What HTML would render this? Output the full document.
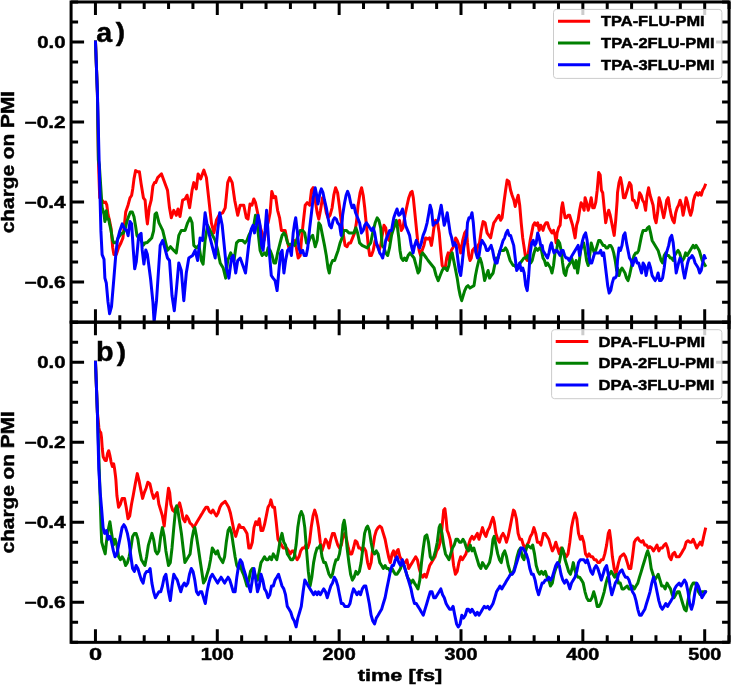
<!DOCTYPE html>
<html><head><meta charset="utf-8"><style>html,body{margin:0;padding:0;background:#fff;}svg{display:block;will-change:transform;}text{font-family:"Liberation Sans", sans-serif;stroke:#000;stroke-width:0.45px;}</style></head>
<body><svg width="731" height="685" viewBox="0 0 731 685" font-family='"Liberation Sans", sans-serif'><defs>
<clipPath id="ca"><rect x="71.08000000000001" y="1.9799999999999969" width="657.99" height="320.15999999999997"/></clipPath>
<clipPath id="cb"><rect x="71.08000000000001" y="322.18" width="657.99" height="320.1599999999999"/></clipPath>
</defs>
<g clip-path="url(#ca)" fill="none" stroke-width="3.0" stroke-linejoin="round" stroke-linecap="square">
<path d="M95.5,42.0 L97.4,92.6 L98.4,160.0 L99.7,197.8 L104.0,202.6 L105.6,202.1 L106.8,204.9 L108.0,214.4 L109.2,219.1 L111.1,228.6 L112.7,247.5 L113.9,254.6 L116.3,254.6 L118.6,247.5 L121.0,242.8 L122.9,238.0 L124.5,223.9 L125.7,212.0 L128.1,204.9 L130.0,197.8 L131.6,195.5 L132.8,188.4 L134.0,178.9 L135.6,170.6 L137.5,171.8 L139.4,171.8 L141.1,183.6 L143.4,197.8 L145.1,200.2 L146.5,216.8 L147.4,223.9 L149.3,207.3 L151.2,200.2 L152.9,186.0 L154.5,182.5 L155.7,182.6 L157.7,177.6 L161.5,173.9 L167.5,190.2 L169.5,207.8 L171.3,217.8 L173.8,210.3 L176.3,215.3 L178.0,209.0 L180.0,216.5 L182.6,200.2 L185.1,199.0 L187.1,195.2 L189.6,207.8 L192.1,190.2 L193.8,182.6 L196.3,188.9 L198.1,173.9 L200.6,178.9 L203.9,170.1 L206.4,177.6 L208.9,200.2 L211.4,222.8 L213.9,232.9 L216.4,220.3 L219.7,214.0 L222.7,212.8 L225.2,207.8 L227.7,182.6 L229.7,177.6 L232.2,182.6 L234.7,200.2 L237.7,215.3 L240.2,205.2 L243.8,205.2 L246.3,217.8 L248.0,219.1 L250.0,204.0 L252.0,205.2 L253.8,199.0 L255.5,202.7 L257.6,212.8 L259.6,225.3 L262.1,232.9 L264.1,240.4 L266.3,227.8 L268.1,222.8 L270.1,212.8 L271.8,191.4 L273.9,197.7 L275.6,196.5 L277.6,210.3 L279.6,217.8 L281.4,230.4 L283.1,230.4 L285.1,230.4 L287.1,240.4 L288.9,247.9 L291.4,247.9 L293.9,240.4 L296.4,247.9 L298.2,258.0 L300.2,255.5 L301.4,240.4 L303.2,222.8 L305.2,205.2 L307.2,202.7 L309.7,205.2 L311.5,190.2 L313.2,187.7 L315.2,200.2 L317.2,212.8 L318.8,219.1 L320.5,210.3 L322.5,197.7 L324.5,202.7 L326.3,212.8 L328.0,217.8 L330.0,215.3 L332.1,207.8 L333.8,195.2 L335.6,187.7 L337.6,192.7 L339.3,205.2 L341.1,220.3 L343.1,232.9 L345.1,245.4 L347.1,246.7 L348.9,242.9 L350.6,242.9 L352.6,237.9 L354.6,232.9 L356.4,222.8 L358.1,205.2 L360.1,192.7 L361.6,187.7 L363.2,195.2 L364.7,207.8 L366.4,225.3 L368.2,245.4 L369.7,255.5 L371.4,255.5 L373.2,250.4 L375.2,240.4 L377.2,245.4 L379.2,250.4 L380.7,245.4 L382.2,235.4 L384.0,225.3 L385.7,227.8 L387.2,237.9 L389.0,240.4 L390.2,232.9 L393.8,227.8 L395.5,222.8 L397.5,225.3 L399.5,220.3 L401.3,230.4 L403.0,227.8 L405.0,215.3 L407.1,205.2 L408.8,197.7 L410.6,192.7 L412.1,191.4 L413.3,197.7 L414.6,210.3 L416.1,225.3 L417.6,240.4 L419.1,250.4 L420.6,255.5 L422.1,250.4 L423.9,245.4 L425.6,237.9 L427.6,239.1 L429.6,237.9 L431.4,245.4 L432.6,237.9 L433.9,227.8 L435.6,220.3 L437.6,222.8 L439.2,232.9 L440.7,250.4 L442.2,265.5 L443.7,268.0 L445.2,268.0 L446.7,258.0 L448.2,252.9 L449.7,260.5 L451.2,250.4 L452.7,247.9 L454.2,245.4 L455.7,237.9 L457.2,240.4 L459.0,245.4 L460.7,252.9 L462.7,240.4 L464.7,232.9 L466.5,230.4 L467.5,242.9 L468.8,255.5 L470.0,260.5 L471.3,258.0 L472.5,250.4 L474.5,247.9 L476.3,252.9 L478.0,245.4 L479.5,242.9 L481.3,230.4 L483.1,221.6 L485.1,222.8 L487.1,232.9 L488.8,235.4 L490.6,237.9 L492.1,230.4 L493.8,222.8 L495.6,220.3 L497.1,217.8 L498.9,215.3 L500.6,220.3 L502.1,217.8 L503.9,202.7 L505.6,190.2 L507.1,180.1 L508.9,181.4 L510.6,190.2 L512.1,195.2 L513.9,200.2 L515.2,206.5 L516.7,200.2 L518.2,195.2 L519.7,205.2 L521.2,222.8 L522.7,237.9 L524.2,247.9 L525.7,258.0 L527.2,260.5 L528.7,250.4 L530.2,240.4 L531.7,232.9 L533.2,225.3 L534.7,222.8 L536.2,225.3 L537.7,222.8 L539.2,230.4 L540.7,225.3 L542.2,227.8 L543.0,230.4 L544.5,225.3 L546.0,222.8 L547.5,222.8 L549.0,227.8 L550.5,230.4 L552.0,232.9 L553.5,230.4 L555.0,235.4 L556.1,242.9 L557.1,232.9 L558.6,227.8 L560.1,225.3 L561.6,207.8 L562.6,202.7 L563.8,210.3 L565.1,217.8 L566.6,217.8 L568.1,215.3 L569.6,215.3 L571.1,220.3 L572.6,225.3 L574.1,232.9 L575.1,237.9 L576.6,225.3 L578.1,220.3 L579.6,210.3 L581.1,202.7 L582.6,205.2 L584.1,210.3 L585.1,197.7 L586.6,202.7 L588.2,210.3 L589.7,205.2 L591.2,197.7 L592.7,207.8 L594.2,207.8 L595.7,202.7 L597.2,190.2 L598.7,172.6 L600.2,175.1 L601.4,190.2 L602.7,192.7 L604.2,207.8 L605.7,222.8 L607.2,215.3 L608.7,210.3 L610.2,215.3 L611.7,222.8 L613.2,230.4 L614.2,235.4 L615.7,220.3 L617.2,200.2 L617.5,192.7 L619.0,182.6 L620.5,177.6 L622.0,185.2 L623.5,197.7 L625.0,197.7 L626.5,192.7 L628.0,187.7 L629.5,182.6 L631.1,185.2 L632.6,200.2 L634.1,200.2 L635.1,202.7 L636.6,207.8 L638.1,202.7 L639.6,192.7 L641.1,195.2 L642.6,200.2 L644.1,202.7 L645.6,210.3 L647.1,195.2 L648.6,187.7 L650.1,195.2 L651.6,200.2 L653.1,205.2 L654.6,217.8 L656.1,222.8 L657.6,212.8 L659.1,197.7 L660.6,202.7 L662.1,210.3 L663.7,217.8 L665.2,210.3 L666.7,200.2 L668.2,197.7 L669.7,207.8 L671.2,215.3 L672.7,220.3 L674.2,222.8 L675.7,212.8 L677.2,207.8 L678.6,205.2 L680.1,200.2 L681.6,205.2 L683.1,215.3 L684.6,207.8 L686.1,197.7 L687.6,202.7 L689.1,210.3 L690.6,215.3 L692.1,210.3 L693.6,200.2 L695.1,195.2 L696.7,192.7 L698.2,195.2 L699.7,192.7 L701.2,195.2 L702.7,190.2 L704.2,187.7 L705.2,185.2" stroke="#ff0000"/>
<path d="M95.5,42.0 L97.4,92.6 L98.4,160.0 L99.3,164.7 L102.1,207.3 L104.0,214.4 L104.9,221.5 L106.3,210.8 L107.3,219.1 L108.7,219.1 L109.6,223.9 L111.1,230.9 L112.7,240.4 L113.9,242.8 L116.3,242.8 L118.1,238.0 L119.8,235.7 L121.5,233.3 L123.3,233.3 L125.2,228.6 L126.9,221.5 L128.5,216.8 L130.4,212.0 L132.3,212.0 L134.0,216.8 L135.6,226.2 L137.0,235.7 L138.7,238.0 L141.1,240.4 L143.4,245.1 L145.1,242.8 L147.0,242.8 L149.3,240.4 L151.7,238.0 L153.6,230.9 L155.0,214.4 L156.5,212.8 L159.0,222.8 L162.7,230.4 L167.5,250.4 L170.5,246.7 L173.8,250.4 L176.3,252.9 L178.8,235.4 L181.3,230.4 L185.1,230.4 L187.6,222.8 L190.1,217.8 L192.1,222.8 L193.8,245.4 L196.3,247.9 L198.9,245.4 L201.4,260.5 L203.1,264.2 L205.1,240.4 L207.6,225.3 L210.1,230.4 L212.6,235.4 L215.2,240.4 L217.7,250.4 L220.2,263.0 L223.2,268.0 L225.7,278.1 L227.7,260.5 L230.7,252.9 L234.0,260.5 L236.5,242.9 L239.0,240.4 L242.5,240.4 L245.0,242.9 L247.0,240.4 L248.8,235.4 L251.3,230.4 L253.8,225.3 L255.5,215.3 L257.6,227.8 L260.1,250.4 L262.1,255.5 L264.6,252.9 L266.3,255.5 L268.1,247.9 L270.1,250.4 L272.1,255.5 L273.9,263.0 L275.6,263.0 L277.6,252.9 L280.1,242.9 L282.1,235.4 L283.9,232.9 L285.6,235.4 L287.6,242.9 L289.7,245.4 L292.7,242.9 L294.7,245.4 L296.4,240.4 L298.2,235.4 L300.2,230.4 L302.7,230.4 L304.7,232.9 L306.5,242.9 L308.2,242.9 L310.2,237.9 L312.7,235.4 L315.2,246.7 L317.2,240.4 L318.8,222.8 L320.5,225.3 L322.5,235.4 L324.5,245.4 L326.3,255.5 L328.0,268.0 L329.3,273.0 L330.5,265.5 L332.6,260.5 L334.6,260.5 L336.3,255.5 L338.1,250.4 L340.1,242.9 L342.1,237.9 L343.8,230.4 L346.3,230.4 L348.9,232.9 L351.4,232.9 L353.9,232.9 L355.9,227.8 L357.6,232.9 L359.6,242.9 L362.1,245.4 L364.7,246.7 L367.2,247.9 L368.9,245.4 L370.7,242.9 L372.7,232.9 L375.2,222.8 L377.2,217.8 L378.9,220.3 L380.7,227.8 L382.2,245.4 L384.0,247.9 L385.7,252.9 L387.7,255.5 L389.5,247.9 L391.5,235.4 L393.0,230.4 L395.0,222.8 L396.3,220.3 L397.5,227.8 L398.8,237.9 L400.0,250.4 L401.3,258.0 L403.0,260.5 L404.5,258.0 L406.3,260.5 L408.1,255.5 L410.1,252.9 L412.1,255.5 L414.1,258.0 L416.1,265.5 L418.1,273.0 L419.6,270.5 L421.1,255.5 L422.6,252.9 L424.6,255.5 L426.4,258.0 L428.1,260.5 L430.1,263.0 L432.1,265.5 L434.1,268.0 L436.1,275.5 L438.2,280.6 L440.2,275.5 L442.2,270.5 L443.7,268.0 L445.2,268.0 L447.2,270.5 L448.9,265.5 L450.7,255.5 L452.2,252.9 L454.2,263.0 L455.7,270.5 L457.2,278.1 L458.7,288.1 L460.2,295.6 L461.7,300.7 L463.2,295.6 L464.7,290.6 L466.5,286.8 L468.0,285.6 L470.0,288.1 L472.0,286.8 L474.0,285.6 L475.5,275.5 L477.0,268.0 L478.8,260.5 L480.0,258.0 L481.6,263.0 L483.1,270.5 L484.6,280.6 L486.3,275.5 L488.1,270.5 L489.6,278.1 L491.3,275.5 L493.1,273.0 L494.6,265.5 L496.3,258.0 L498.1,258.0 L500.1,250.4 L502.1,250.4 L503.9,250.4 L505.6,247.9 L507.1,250.4 L508.6,255.5 L510.1,260.5 L511.6,263.0 L513.2,265.5 L514.7,265.5 L516.4,268.0 L518.2,265.5 L520.2,263.0 L522.2,260.5 L523.9,258.0 L525.7,258.0 L527.7,255.5 L529.2,260.5 L530.7,263.0 L532.2,260.5 L534.0,252.9 L535.7,247.9 L537.7,250.4 L539.7,247.9 L541.5,250.4 L543.0,258.0 L544.5,260.5 L546.0,265.5 L547.5,263.0 L549.0,265.5 L550.5,268.0 L552.0,273.0 L553.5,265.5 L555.0,252.9 L556.6,250.4 L558.1,240.4 L559.6,242.9 L561.1,250.4 L562.6,263.0 L564.1,273.0 L565.6,275.5 L567.1,268.0 L568.6,265.5 L570.1,263.0 L571.6,258.0 L573.1,263.0 L574.6,268.0 L576.1,260.5 L577.6,273.0 L579.1,263.0 L580.6,250.4 L582.1,245.4 L583.6,242.9 L585.1,250.4 L586.6,260.5 L588.2,265.5 L589.7,255.5 L591.2,242.9 L592.7,247.9 L594.2,252.9 L595.7,250.4 L597.2,245.4 L598.7,240.4 L600.2,240.4 L601.7,242.9 L603.2,245.4 L604.7,245.4 L606.2,247.9 L607.7,247.9 L609.2,245.4 L610.7,245.4 L612.2,247.9 L613.7,252.9 L615.2,260.5 L616.7,270.5 L617.5,268.0 L619.0,275.5 L620.5,270.5 L622.0,268.0 L623.5,270.5 L625.0,273.0 L626.5,278.1 L628.0,280.6 L629.5,275.5 L631.1,268.0 L632.6,260.5 L634.1,255.5 L635.6,252.9 L637.1,252.9 L638.6,250.4 L640.1,242.9 L641.6,235.4 L643.1,230.4 L644.6,230.4 L646.1,230.4 L647.6,227.8 L649.1,226.6 L650.6,232.9 L652.1,240.4 L653.6,242.9 L655.1,245.4 L656.6,247.9 L658.1,250.4 L659.6,255.5 L661.1,260.5 L662.6,263.0 L664.2,255.5 L665.7,252.9 L667.2,255.5 L668.7,255.5 L670.2,258.0 L671.7,258.0 L673.2,260.5 L674.7,255.5 L676.2,252.9 L678.1,250.4 L679.6,252.9 L681.1,258.0 L682.6,260.5 L684.1,258.0 L685.6,252.9 L687.1,255.5 L688.6,252.9 L690.1,250.4 L691.6,247.9 L693.1,245.4 L694.6,247.9 L696.2,245.4 L697.7,247.9 L699.2,250.4 L700.7,255.5 L702.2,260.5 L703.7,263.0 L705.2,265.5" stroke="#008000"/>
<path d="M95.5,42.0 L97.4,92.6 L100.9,230.9 L102.1,254.6 L104.0,259.3 L104.9,278.2 L106.3,283.0 L108.0,301.9 L109.6,313.7 L111.5,306.6 L113.9,278.2 L115.8,254.6 L117.4,240.4 L119.8,230.9 L122.2,223.9 L124.5,228.6 L126.9,230.9 L128.1,235.7 L130.0,221.5 L131.6,223.9 L133.3,249.9 L134.7,268.8 L136.3,261.7 L138.7,235.7 L141.1,233.3 L142.2,249.9 L143.9,264.1 L145.8,249.9 L147.4,254.6 L150.5,278.2 L152.9,301.9 L154.1,322.0 L156.5,300.7 L160.2,245.4 L162.7,240.4 L167.5,258.0 L169.5,260.5 L172.0,295.6 L174.3,310.7 L176.3,290.6 L178.8,263.0 L181.3,270.5 L183.8,300.7 L186.3,273.0 L188.8,258.0 L192.6,255.5 L195.1,250.4 L197.6,260.5 L200.1,237.9 L202.6,240.4 L205.1,212.8 L207.6,227.8 L210.1,237.9 L212.6,247.9 L215.2,258.0 L217.7,230.4 L219.7,212.8 L222.2,225.3 L224.7,250.4 L226.4,268.0 L228.9,278.1 L231.5,258.0 L233.2,255.5 L235.7,273.0 L237.7,260.5 L240.2,258.0 L243.8,268.0 L245.5,273.0 L247.5,255.5 L249.5,237.9 L251.3,229.1 L253.0,225.3 L254.5,232.9 L256.3,225.3 L258.1,215.3 L260.1,225.3 L261.6,245.4 L263.1,250.4 L265.1,230.4 L266.6,210.3 L268.1,232.9 L269.6,255.5 L271.3,275.5 L273.1,278.1 L275.1,280.6 L277.1,290.6 L278.9,270.5 L280.6,252.9 L282.1,250.4 L283.9,273.0 L285.6,260.5 L287.6,250.4 L289.7,247.9 L291.4,255.5 L293.2,232.9 L294.7,222.8 L295.7,217.8 L297.2,230.4 L298.9,247.9 L300.7,252.9 L302.7,250.4 L304.2,255.5 L306.2,255.5 L307.7,247.9 L309.7,227.8 L311.5,212.8 L313.2,197.7 L315.2,187.7 L316.7,195.2 L318.0,204.0 L320.0,192.7 L321.3,188.9 L323.0,192.7 L324.5,200.2 L326.3,207.8 L328.0,217.8 L329.5,225.3 L331.3,227.8 L333.1,220.3 L334.6,217.8 L336.3,219.1 L337.6,222.8 L339.6,225.3 L341.1,235.4 L342.6,215.3 L344.6,202.7 L346.1,195.2 L347.6,191.4 L349.1,195.2 L350.6,202.7 L352.1,207.8 L353.9,205.2 L355.6,212.8 L357.6,217.8 L359.6,222.8 L361.4,232.9 L363.2,230.4 L364.7,225.3 L366.4,222.8 L368.2,225.3 L369.7,227.8 L371.4,230.4 L373.2,227.8 L374.7,232.9 L376.4,242.9 L378.2,247.9 L379.7,252.9 L381.5,255.5 L382.7,258.0 L384.2,250.4 L385.7,240.4 L387.7,235.4 L389.7,230.4 L391.5,230.4 L393.8,217.8 L395.5,212.8 L397.0,209.0 L398.8,215.3 L400.5,214.0 L402.5,209.0 L404.0,215.3 L405.5,225.3 L407.6,230.4 L409.6,235.4 L411.3,245.4 L413.1,252.9 L414.6,245.4 L416.3,240.4 L418.1,245.4 L419.6,247.9 L421.3,242.9 L423.1,235.4 L425.1,230.4 L427.1,222.8 L428.9,212.8 L430.1,205.2 L431.6,210.3 L433.1,225.3 L434.6,222.8 L436.4,222.8 L438.2,220.3 L439.7,212.8 L441.2,205.2 L442.7,215.3 L444.2,225.3 L445.7,220.3 L447.2,212.8 L448.7,222.8 L450.2,232.9 L451.7,237.9 L453.2,245.4 L454.7,242.9 L456.2,245.4 L457.7,258.0 L459.2,270.5 L460.7,275.5 L462.2,263.0 L463.7,247.9 L465.2,240.4 L466.7,235.4 L467.5,222.8 L469.0,217.8 L470.5,217.8 L472.0,212.8 L473.3,222.8 L474.5,237.9 L476.0,252.9 L477.5,258.0 L479.0,255.5 L480.5,245.4 L482.1,240.4 L483.6,242.9 L485.1,245.4 L486.6,250.4 L488.1,250.4 L489.6,247.9 L491.1,245.4 L492.6,250.4 L494.1,258.0 L495.6,263.0 L497.1,263.0 L498.6,255.5 L500.1,250.4 L501.6,245.4 L503.1,240.4 L504.6,237.9 L506.1,232.9 L507.6,230.4 L509.1,235.4 L510.6,235.4 L512.1,240.4 L513.7,245.4 L515.2,258.0 L516.7,270.5 L518.2,268.0 L519.7,263.0 L521.2,270.5 L522.7,268.0 L524.2,273.0 L525.7,285.6 L527.2,290.6 L528.7,275.5 L530.2,252.9 L531.7,242.9 L533.2,240.4 L534.7,245.4 L536.2,242.9 L537.7,232.9 L539.2,237.9 L540.7,245.4 L542.2,245.4 L543.0,250.4 L544.5,252.9 L546.0,255.5 L547.5,258.0 L549.0,252.9 L550.5,245.4 L551.5,242.9 L552.5,247.9 L554.0,252.9 L555.5,250.4 L557.1,250.4 L558.6,252.9 L560.1,255.5 L561.6,250.4 L563.1,250.4 L564.6,255.5 L566.1,258.0 L567.6,258.0 L569.1,260.5 L570.6,258.0 L572.1,255.5 L573.6,252.9 L575.1,250.4 L576.6,247.9 L578.1,245.4 L579.6,255.5 L581.1,247.9 L582.6,240.4 L584.1,235.4 L585.6,232.9 L587.1,240.4 L588.7,255.5 L590.2,263.0 L591.7,263.0 L593.2,258.0 L594.7,252.9 L596.2,252.9 L597.7,252.9 L599.2,252.9 L600.7,250.4 L602.2,255.5 L603.7,252.9 L604.7,260.5 L606.2,273.0 L607.7,285.6 L609.2,293.1 L610.7,290.6 L612.2,283.1 L613.7,278.1 L615.2,278.1 L616.7,275.5 L617.5,260.5 L619.0,247.9 L620.5,250.4 L622.0,245.4 L623.5,235.4 L625.0,232.9 L626.5,242.9 L628.0,250.4 L629.5,258.0 L631.1,260.5 L632.6,265.5 L634.1,260.5 L635.6,258.0 L637.1,263.0 L638.6,263.0 L640.1,268.0 L641.6,273.0 L643.1,263.0 L644.6,265.5 L646.1,275.5 L647.6,268.0 L649.1,263.0 L650.6,268.0 L652.1,275.5 L653.6,278.1 L655.1,280.6 L656.6,278.1 L658.1,273.0 L659.6,280.6 L661.1,280.6 L662.6,278.1 L664.2,268.0 L665.7,255.5 L667.2,250.4 L668.7,245.4 L670.2,237.9 L671.7,235.4 L673.2,242.9 L674.7,258.0 L676.2,273.0 L678.6,263.0 L680.1,258.0 L681.6,260.5 L683.1,270.5 L684.6,278.1 L686.1,270.5 L687.6,263.0 L689.1,258.0 L690.6,258.0 L692.1,255.5 L693.6,258.0 L695.1,263.0 L696.7,265.5 L698.2,268.0 L699.7,273.0 L701.2,270.5 L702.7,263.0 L704.2,255.5 L705.2,258.0" stroke="#0000ff"/>
</g>
<g clip-path="url(#cb)" fill="none" stroke-width="3.0" stroke-linejoin="round" stroke-linecap="square">
<path d="M95.5,362.2 L97.4,412.5 L98.9,428.0 L99.6,431.0 L100.8,432.7 L101.5,437.5 L102.3,449.0 L103.2,456.8 L105.0,460.4 L106.3,460.4 L107.6,453.3 L108.7,450.7 L109.8,455.0 L111.1,462.1 L112.4,466.5 L113.7,463.9 L114.6,469.1 L115.5,476.1 L115.9,480.0 L116.9,495.5 L118.6,507.2 L120.4,504.2 L122.1,498.4 L124.5,498.4 L126.2,507.2 L128.0,518.8 L129.7,515.9 L131.5,504.2 L133.2,495.5 L135.3,483.8 L137.3,473.6 L139.1,480.9 L140.8,489.6 L142.6,498.4 L144.3,492.6 L146.1,488.2 L147.8,482.3 L149.9,483.8 L151.9,492.6 L153.6,498.4 L155.4,495.5 L157.2,492.6 L158.9,504.2 L160.7,510.1 L162.4,515.9 L164.2,526.1 L165.9,510.1 L168.5,488.2 L169.7,492.6 L170.8,504.2 L172.6,510.1 L174.3,511.5 L176.1,507.2 L177.8,507.2 L179.6,502.8 L181.4,510.1 L183.1,518.8 L184.9,521.8 L186.6,515.9 L188.4,518.8 L190.1,523.2 L191.9,524.7 L193.6,527.6 L195.4,524.7 L197.1,521.8 L198.9,518.8 L200.6,515.9 L202.4,513.0 L204.1,510.1 L205.9,507.2 L207.6,507.2 L209.4,511.5 L211.1,513.0 L212.9,510.1 L214.6,513.0 L216.4,515.9 L218.1,513.0 L219.9,507.2 L221.6,504.2 L223.4,502.8 L225.1,501.3 L226.9,504.2 L228.6,507.2 L230.4,513.0 L232.2,521.8 L233.9,530.5 L235.7,536.4 L237.4,530.5 L239.2,524.7 L240.9,527.6 L243.5,527.6 L245.3,530.5 L247.0,533.4 L248.8,548.0 L250.5,548.0 L252.3,542.2 L254.0,527.6 L255.8,521.8 L257.5,524.7 L259.3,518.8 L261.0,530.5 L262.8,530.5 L264.5,524.7 L266.3,515.9 L268.0,507.2 L269.8,504.2 L270.9,499.9 L272.7,507.2 L274.5,507.2 L276.2,521.8 L278.0,539.3 L279.7,542.2 L281.5,545.1 L283.2,548.0 L285.0,548.0 L286.7,548.0 L288.5,550.9 L290.2,553.9 L292.0,550.9 L293.7,550.9 L295.5,556.8 L297.2,559.7 L299.0,556.8 L300.7,550.9 L302.5,548.0 L304.2,548.0 L306.0,545.1 L307.7,548.0 L309.5,542.2 L311.2,527.6 L313.0,515.9 L314.7,510.1 L316.5,515.9 L318.5,527.6 L320.3,542.2 L322.0,550.9 L323.8,545.1 L325.5,539.3 L327.3,542.2 L329.0,548.0 L330.8,539.3 L332.5,533.4 L334.3,533.4 L336.0,539.3 L337.8,545.1 L339.5,548.0 L341.3,545.1 L343.0,536.4 L344.8,533.4 L346.5,539.3 L348.3,548.0 L350.0,553.9 L351.8,553.9 L353.5,548.0 L355.3,540.7 L357.0,542.2 L358.8,548.0 L360.5,548.0 L362.3,550.9 L364.1,548.0 L365.8,550.9 L367.6,562.6 L369.3,568.5 L371.1,562.6 L372.8,548.0 L374.6,536.4 L376.3,530.5 L378.1,527.6 L379.8,526.1 L381.6,527.6 L383.3,533.4 L385.1,539.3 L386.8,548.0 L388.6,556.8 L390.3,562.6 L392.1,553.9 L393.5,550.9 L395.3,556.8 L397.0,550.9 L398.2,549.5 L399.9,556.8 L401.7,559.7 L403.4,562.6 L405.2,562.6 L406.9,559.7 L408.7,568.5 L410.4,565.5 L412.2,562.6 L413.9,559.7 L415.7,556.8 L417.4,559.7 L419.2,568.5 L420.9,574.3 L422.7,577.2 L424.5,574.3 L426.2,577.2 L428.0,571.4 L429.7,565.5 L431.5,562.6 L433.2,559.7 L435.0,556.8 L436.7,550.9 L438.5,548.0 L440.2,542.2 L442.0,527.6 L443.7,510.1 L444.9,508.6 L446.1,518.8 L447.2,530.5 L448.4,533.4 L450.1,539.3 L451.9,550.9 L453.6,565.5 L455.4,574.3 L457.2,571.4 L458.9,562.6 L460.7,556.8 L462.4,559.7 L464.2,556.8 L465.9,553.9 L468.5,545.1 L470.3,539.3 L472.0,536.4 L473.8,539.3 L475.5,536.4 L477.3,533.4 L479.0,539.3 L480.8,533.4 L482.5,527.6 L484.3,533.4 L486.0,536.4 L487.8,530.5 L489.5,527.6 L491.3,521.8 L493.0,517.4 L494.2,521.8 L495.9,533.4 L497.7,539.3 L499.5,542.2 L501.2,536.4 L503.0,533.4 L504.7,536.4 L506.5,542.2 L508.2,536.4 L510.0,527.6 L511.7,518.8 L513.5,510.1 L514.6,511.5 L516.4,518.8 L518.1,533.4 L519.9,539.3 L521.6,539.3 L523.4,545.1 L525.1,548.0 L526.9,545.1 L528.6,542.2 L530.4,536.4 L532.2,533.4 L533.9,527.6 L535.7,533.4 L537.4,542.2 L539.2,542.2 L540.9,545.1 L543.5,533.4 L545.3,533.4 L547.0,536.4 L548.8,539.3 L550.5,545.1 L552.3,550.9 L554.0,548.0 L555.8,542.2 L557.5,548.0 L559.3,553.9 L561.0,548.0 L562.8,550.9 L564.5,553.9 L566.3,556.8 L568.0,553.9 L569.8,542.2 L571.5,527.6 L573.3,518.8 L575.0,513.0 L576.8,518.8 L578.5,533.4 L580.3,539.3 L582.0,536.4 L583.8,542.2 L585.5,553.9 L587.3,556.8 L589.1,553.9 L590.8,556.8 L592.6,556.8 L594.3,559.7 L596.1,559.7 L597.8,562.6 L599.6,562.6 L601.3,559.7 L603.1,559.7 L604.8,553.9 L606.6,545.1 L608.3,533.4 L609.5,530.5 L610.7,539.3 L612.4,556.8 L614.2,568.5 L615.9,574.3 L618.5,562.6 L620.3,556.8 L622.0,555.3 L623.8,553.9 L625.5,556.8 L627.3,562.6 L629.0,568.5 L630.8,568.5 L632.5,556.8 L634.3,542.2 L636.0,539.3 L637.8,537.8 L639.5,540.7 L641.3,542.2 L643.0,540.7 L644.8,545.1 L646.5,545.1 L648.3,548.0 L650.0,546.6 L651.8,548.0 L653.5,550.9 L655.3,548.0 L657.0,545.1 L658.8,550.9 L660.5,548.0 L662.3,548.0 L664.1,545.1 L665.8,543.6 L667.6,548.0 L669.3,556.8 L671.1,559.7 L672.8,553.9 L674.6,552.4 L676.3,556.8 L679.2,556.8 L681.0,553.9 L682.7,550.9 L684.5,548.0 L686.2,542.2 L688.0,540.7 L689.7,542.2 L691.5,542.2 L693.2,539.3 L695.0,543.6 L696.7,548.0 L698.4,545.1 L700.2,542.2 L701.9,545.1 L703.7,536.4 L705.4,529.1" stroke="#ff0000"/>
<path d="M95.5,362.2 L97.4,412.6 L99.6,480.0 L101.1,527.6 L101.7,542.2 L103.4,548.0 L105.2,553.9 L106.4,542.2 L108.1,530.5 L109.9,521.8 L111.6,533.4 L113.4,545.1 L115.1,539.3 L116.9,545.1 L118.6,556.8 L120.4,559.7 L122.1,556.8 L123.9,559.7 L125.6,565.5 L127.4,562.6 L129.1,556.8 L130.9,548.0 L132.6,536.4 L134.4,533.4 L136.1,533.4 L137.9,539.3 L139.6,550.9 L141.4,559.7 L143.1,562.6 L144.9,565.5 L146.6,556.8 L148.4,545.1 L150.1,539.3 L151.9,533.4 L153.6,539.3 L155.4,550.9 L157.2,553.9 L158.9,550.9 L160.7,536.4 L162.4,527.6 L164.2,536.4 L165.9,550.9 L168.5,565.5 L170.3,562.6 L172.0,548.0 L173.8,527.6 L175.5,510.1 L176.7,505.7 L177.8,510.1 L179.6,521.8 L181.4,533.4 L183.1,548.0 L184.9,562.6 L186.6,559.7 L188.4,556.8 L190.1,553.9 L191.9,539.3 L193.6,530.5 L194.8,527.6 L196.5,536.4 L198.3,548.0 L200.0,559.7 L201.8,571.4 L203.5,583.1 L205.3,580.1 L207.0,574.3 L208.8,568.5 L210.5,559.7 L212.3,548.0 L214.1,550.9 L215.8,553.9 L217.6,550.9 L219.3,556.8 L221.1,559.7 L222.8,562.6 L224.6,556.8 L226.3,542.2 L228.1,530.5 L229.8,527.6 L231.6,533.4 L233.3,545.1 L235.1,556.8 L236.8,565.5 L238.6,568.5 L240.3,565.5 L242.1,571.4 L243.5,574.3 L245.3,580.1 L247.0,586.0 L248.8,580.1 L250.5,571.4 L252.3,568.5 L254.0,571.4 L255.8,577.2 L257.5,580.1 L259.3,571.4 L261.0,562.6 L262.8,559.7 L264.5,556.8 L266.3,559.7 L268.0,559.7 L269.8,556.8 L271.5,559.7 L273.3,553.9 L275.0,556.8 L276.8,559.7 L278.5,550.9 L280.3,539.3 L282.0,533.4 L283.8,542.2 L285.5,545.1 L287.3,553.9 L289.1,556.8 L290.8,559.7 L292.6,559.7 L294.3,556.8 L296.1,545.1 L297.8,527.6 L299.6,515.9 L301.3,511.5 L303.1,515.9 L304.8,527.6 L306.6,550.9 L308.3,571.4 L310.1,586.0 L311.8,577.2 L313.6,562.6 L315.3,553.9 L317.1,548.0 L318.5,548.0 L320.3,545.1 L322.0,556.8 L323.8,562.6 L325.5,562.6 L327.3,568.5 L329.0,574.3 L330.8,577.2 L332.5,574.3 L334.3,565.5 L336.0,559.7 L337.8,559.7 L339.5,553.9 L341.3,542.2 L343.0,524.7 L344.2,520.3 L345.4,527.6 L347.1,548.0 L348.9,562.6 L350.6,574.3 L352.4,580.1 L354.1,577.2 L355.9,571.4 L357.6,574.3 L359.4,571.4 L361.1,562.6 L362.9,548.0 L364.6,533.4 L366.4,527.6 L367.6,526.1 L369.3,530.5 L371.1,542.2 L372.8,550.9 L374.6,553.9 L376.3,550.9 L378.1,553.9 L379.8,562.6 L381.6,565.5 L383.3,568.5 L385.1,565.5 L386.8,568.5 L388.6,568.5 L390.3,571.4 L392.1,568.5 L393.5,571.4 L395.3,574.3 L397.0,574.3 L398.8,571.4 L400.5,568.5 L402.3,562.6 L404.0,565.5 L405.8,571.4 L407.5,577.2 L409.3,580.1 L411.0,583.1 L412.8,580.1 L414.5,583.1 L416.3,586.0 L418.0,588.9 L419.8,580.1 L421.5,562.6 L423.3,548.0 L425.0,536.4 L426.8,534.9 L428.5,542.2 L430.3,556.8 L432.0,559.7 L433.8,556.8 L435.5,550.9 L437.3,542.2 L439.1,527.6 L440.2,524.7 L442.0,533.4 L443.7,545.1 L445.5,553.9 L447.2,556.8 L449.0,559.7 L450.7,553.9 L452.5,548.0 L454.2,545.1 L456.0,539.3 L457.7,539.3 L459.5,542.2 L461.2,542.2 L463.0,539.3 L464.7,542.2 L466.5,548.0 L468.5,550.9 L470.3,545.1 L472.0,550.9 L473.8,548.0 L475.5,553.9 L477.3,559.7 L479.0,565.5 L480.8,568.5 L482.5,562.6 L484.3,565.5 L486.0,568.5 L487.8,565.5 L489.5,562.6 L491.3,553.9 L493.0,539.3 L494.2,536.4 L495.9,545.1 L497.7,553.9 L499.5,559.7 L501.2,562.6 L503.0,553.9 L504.7,550.9 L506.5,556.8 L508.2,565.5 L510.0,571.4 L511.7,574.3 L513.5,571.4 L515.2,565.5 L517.0,556.8 L518.7,550.9 L520.5,548.0 L522.2,556.8 L524.0,559.7 L525.7,550.9 L527.5,545.1 L529.2,546.6 L531.0,548.0 L532.7,545.1 L534.5,553.9 L536.2,565.5 L538.0,571.4 L539.7,574.3 L541.5,571.4 L543.5,574.3 L545.3,571.4 L547.0,577.2 L548.8,580.1 L550.5,586.0 L552.3,583.1 L554.0,574.3 L555.8,568.5 L557.5,565.5 L559.3,562.6 L561.0,553.9 L562.2,548.0 L563.4,550.9 L565.1,559.7 L566.9,565.5 L568.6,571.4 L570.4,574.3 L572.1,568.5 L573.3,562.6 L574.5,568.5 L576.2,574.3 L578.0,577.2 L579.7,577.2 L581.5,580.1 L583.2,583.1 L585.0,591.8 L586.7,597.7 L588.5,600.6 L590.2,600.6 L592.0,597.7 L593.7,591.8 L595.5,597.7 L597.2,606.4 L599.0,606.4 L600.7,603.5 L602.5,597.7 L604.2,591.8 L606.0,583.1 L607.7,577.2 L609.5,574.3 L611.2,571.4 L613.0,574.3 L614.7,577.2 L616.5,574.3 L618.5,583.1 L620.3,583.1 L622.0,588.9 L623.8,588.9 L625.5,587.4 L627.3,586.0 L629.0,588.9 L630.8,588.9 L632.5,586.0 L634.3,588.9 L636.0,586.0 L637.8,583.1 L639.5,577.2 L641.3,571.4 L643.0,565.5 L644.8,559.7 L646.5,553.9 L647.7,550.9 L649.5,556.8 L651.2,568.5 L653.0,574.3 L654.7,580.1 L656.5,577.2 L658.2,574.3 L660.0,580.1 L661.7,586.0 L663.5,586.0 L665.2,588.9 L667.0,583.1 L668.7,586.0 L670.5,588.9 L672.2,594.7 L674.0,597.7 L675.7,594.7 L677.5,591.8 L679.2,591.8 L681.0,597.7 L682.7,603.5 L684.5,609.3 L686.2,610.8 L688.0,600.6 L689.7,591.8 L691.5,586.0 L693.2,583.1 L695.0,583.1 L696.7,586.0 L698.4,591.8 L700.2,594.7 L701.9,591.8 L703.7,591.8 L705.4,591.8" stroke="#008000"/>
<path d="M95.5,362.2 L97.4,412.6 L98.8,469.2 L100.2,492.6 L101.7,510.1 L103.1,527.6 L104.6,533.4 L106.4,530.5 L108.1,539.3 L109.9,536.4 L111.6,542.2 L113.4,550.9 L115.1,556.8 L116.9,553.9 L118.6,545.1 L120.4,536.4 L122.1,527.6 L123.9,524.7 L125.6,527.6 L127.4,533.4 L129.1,542.2 L130.9,556.8 L132.6,568.5 L134.4,571.4 L136.1,565.5 L137.9,568.5 L139.6,574.3 L141.4,580.1 L143.1,583.1 L144.9,574.3 L146.6,571.4 L148.4,571.4 L150.1,568.5 L151.9,583.1 L153.6,591.8 L155.4,597.7 L157.2,594.7 L158.9,591.8 L160.7,591.8 L162.4,586.0 L164.2,577.2 L165.9,574.3 L168.5,591.8 L170.3,600.6 L172.0,586.0 L173.8,574.3 L175.5,577.2 L177.3,580.1 L179.0,586.0 L180.8,591.8 L182.5,586.0 L184.3,583.1 L186.0,586.0 L187.8,583.1 L189.5,574.3 L191.3,568.5 L193.0,571.4 L194.8,580.1 L196.5,591.8 L198.3,594.7 L200.0,591.8 L201.8,591.8 L203.5,597.7 L205.3,603.5 L207.0,591.8 L208.8,583.1 L210.5,577.2 L212.3,574.3 L214.1,577.2 L215.8,580.1 L217.6,583.1 L219.3,580.1 L221.1,577.2 L222.8,580.1 L224.6,583.1 L226.3,580.1 L228.1,577.2 L229.8,580.1 L231.6,586.0 L233.3,591.8 L235.1,591.8 L236.8,577.2 L238.6,565.5 L240.3,559.7 L242.1,562.6 L243.5,568.5 L245.3,574.3 L247.0,580.1 L248.8,586.0 L250.5,591.8 L252.3,580.1 L254.0,568.5 L255.8,580.1 L257.5,591.8 L259.3,586.0 L261.0,574.3 L262.8,580.1 L264.5,588.9 L266.3,591.8 L268.0,597.7 L269.8,594.7 L271.5,586.0 L273.3,586.0 L275.0,580.1 L276.8,577.2 L278.5,574.3 L280.3,580.1 L282.0,586.0 L283.8,588.9 L285.5,594.7 L287.3,606.4 L289.1,609.3 L290.8,612.3 L292.6,618.1 L294.3,621.0 L296.1,626.9 L297.8,618.1 L299.6,612.3 L301.3,606.4 L303.1,591.8 L304.8,580.1 L306.6,583.1 L308.3,586.0 L310.1,588.9 L311.8,591.8 L313.6,594.7 L315.3,591.8 L317.1,594.7 L318.5,591.8 L320.3,594.7 L322.0,591.8 L323.8,588.9 L325.5,591.8 L327.3,597.7 L329.0,591.8 L330.8,586.0 L332.5,583.1 L334.3,577.2 L336.0,580.1 L337.8,586.0 L339.5,594.7 L341.3,603.5 L343.0,603.5 L344.8,606.4 L346.5,606.4 L348.3,606.4 L350.0,603.5 L351.8,594.7 L353.5,588.9 L355.3,591.8 L357.0,594.7 L358.8,591.8 L360.5,594.7 L362.3,588.9 L364.1,586.0 L365.8,586.0 L367.6,594.7 L369.3,603.5 L371.1,615.2 L372.8,621.0 L374.6,623.9 L376.3,618.1 L378.1,615.2 L379.8,612.3 L381.6,609.3 L383.3,603.5 L385.1,597.7 L386.8,588.9 L388.6,580.1 L390.3,571.4 L392.1,565.5 L393.5,565.5 L395.3,559.7 L397.0,556.8 L398.8,562.6 L400.5,565.5 L402.3,559.7 L404.0,565.5 L405.8,571.4 L407.5,577.2 L409.3,583.1 L411.0,588.9 L412.8,597.7 L414.5,603.5 L416.3,603.5 L418.0,606.4 L419.8,609.3 L421.5,612.3 L423.3,615.2 L425.0,609.3 L426.8,603.5 L428.5,597.7 L430.3,591.8 L432.0,591.8 L433.8,597.7 L435.5,597.7 L437.3,594.7 L439.1,591.8 L440.8,588.9 L442.6,594.7 L444.3,597.7 L446.1,603.5 L447.8,606.4 L449.6,609.3 L451.3,609.3 L453.1,606.4 L454.8,615.2 L456.6,623.9 L458.3,626.9 L460.1,623.9 L461.8,615.2 L463.6,618.1 L465.3,615.2 L467.1,609.3 L468.5,609.3 L470.3,612.3 L472.0,609.3 L473.8,612.3 L475.5,615.2 L477.3,612.3 L479.0,615.2 L480.8,612.3 L482.5,609.3 L484.3,606.4 L486.0,607.9 L487.8,606.4 L489.5,609.3 L491.3,606.4 L493.0,603.5 L494.8,597.7 L496.5,591.8 L498.3,588.9 L500.0,586.0 L501.8,588.9 L503.5,586.0 L505.3,583.1 L507.0,580.1 L508.8,577.2 L510.5,574.3 L512.3,574.3 L514.1,571.4 L515.8,565.5 L517.6,559.7 L519.3,553.9 L521.1,548.0 L522.8,548.0 L524.6,550.9 L526.3,553.9 L528.1,559.7 L529.8,568.5 L531.6,574.3 L533.3,574.3 L535.1,580.1 L536.8,588.9 L538.6,594.7 L540.3,588.9 L542.1,583.1 L543.5,583.1 L545.3,580.1 L547.0,580.1 L548.8,577.2 L550.5,580.1 L552.3,577.2 L554.0,571.4 L555.8,565.5 L557.5,562.6 L559.3,565.5 L561.0,574.3 L562.8,580.1 L564.5,583.1 L566.3,580.1 L568.0,583.1 L569.8,588.9 L571.5,583.1 L573.3,580.1 L575.0,577.2 L576.8,571.4 L578.5,562.6 L580.3,559.7 L582.0,559.7 L583.8,559.7 L585.5,562.6 L587.3,559.7 L589.1,565.5 L590.8,571.4 L592.6,574.3 L594.3,568.5 L596.1,565.5 L597.8,568.5 L599.6,574.3 L601.3,580.1 L603.1,574.3 L604.8,568.5 L606.6,565.5 L608.3,574.3 L610.1,586.0 L611.8,594.7 L613.6,588.9 L615.3,583.1 L617.1,580.1 L618.5,574.3 L620.3,571.4 L622.0,569.9 L623.8,574.3 L625.5,577.2 L627.3,577.2 L629.0,580.1 L630.8,586.0 L632.5,591.8 L634.3,594.7 L636.0,600.6 L637.8,609.3 L639.5,615.2 L641.3,615.2 L643.0,612.3 L644.8,609.3 L646.5,603.5 L648.3,597.7 L650.0,591.8 L651.8,583.1 L653.5,577.2 L655.3,583.1 L657.0,591.8 L658.8,600.6 L660.5,606.4 L662.3,609.3 L664.1,606.4 L665.8,603.5 L667.6,606.4 L669.3,603.5 L671.1,600.6 L672.8,597.7 L674.6,588.9 L676.3,586.0 L679.2,583.1 L681.0,586.0 L682.7,583.1 L684.5,580.1 L686.2,583.1 L688.0,591.8 L689.7,603.5 L691.5,609.3 L693.2,603.5 L695.0,591.8 L696.7,583.1 L698.4,586.0 L700.2,591.8 L701.9,597.7 L703.7,594.7 L705.4,591.8" stroke="#0000ff"/>
</g>
<path d="M95.45,1.9799999999999969 v13.0 M95.45,322.14 v-13.0 M119.82,1.9799999999999969 v7.0 M119.82,322.14 v-7.0 M144.19,1.9799999999999969 v7.0 M144.19,322.14 v-7.0 M168.56,1.9799999999999969 v7.0 M168.56,322.14 v-7.0 M192.93,1.9799999999999969 v7.0 M192.93,322.14 v-7.0 M217.30,1.9799999999999969 v13.0 M217.30,322.14 v-13.0 M241.67,1.9799999999999969 v7.0 M241.67,322.14 v-7.0 M266.04,1.9799999999999969 v7.0 M266.04,322.14 v-7.0 M290.41,1.9799999999999969 v7.0 M290.41,322.14 v-7.0 M314.78,1.9799999999999969 v7.0 M314.78,322.14 v-7.0 M339.15,1.9799999999999969 v13.0 M339.15,322.14 v-13.0 M363.52,1.9799999999999969 v7.0 M363.52,322.14 v-7.0 M387.89,1.9799999999999969 v7.0 M387.89,322.14 v-7.0 M412.26,1.9799999999999969 v7.0 M412.26,322.14 v-7.0 M436.63,1.9799999999999969 v7.0 M436.63,322.14 v-7.0 M461.00,1.9799999999999969 v13.0 M461.00,322.14 v-13.0 M485.37,1.9799999999999969 v7.0 M485.37,322.14 v-7.0 M509.74,1.9799999999999969 v7.0 M509.74,322.14 v-7.0 M534.11,1.9799999999999969 v7.0 M534.11,322.14 v-7.0 M558.48,1.9799999999999969 v7.0 M558.48,322.14 v-7.0 M582.85,1.9799999999999969 v13.0 M582.85,322.14 v-13.0 M607.22,1.9799999999999969 v7.0 M607.22,322.14 v-7.0 M631.59,1.9799999999999969 v7.0 M631.59,322.14 v-7.0 M655.96,1.9799999999999969 v7.0 M655.96,322.14 v-7.0 M680.33,1.9799999999999969 v7.0 M680.33,322.14 v-7.0 M704.70,1.9799999999999969 v13.0 M704.70,322.14 v-13.0 M729.07,1.9799999999999969 v7.0 M729.07,322.14 v-7.0 M71.08000000000001,322.14 h7.0 M729.07,322.14 h-7.0 M71.08000000000001,302.13 h7.0 M729.07,302.13 h-7.0 M71.08000000000001,282.12 h13.0 M729.07,282.12 h-13.0 M71.08000000000001,262.11 h7.0 M729.07,262.11 h-7.0 M71.08000000000001,242.10 h7.0 M729.07,242.10 h-7.0 M71.08000000000001,222.09 h7.0 M729.07,222.09 h-7.0 M71.08000000000001,202.08 h13.0 M729.07,202.08 h-13.0 M71.08000000000001,182.07 h7.0 M729.07,182.07 h-7.0 M71.08000000000001,162.06 h7.0 M729.07,162.06 h-7.0 M71.08000000000001,142.05 h7.0 M729.07,142.05 h-7.0 M71.08000000000001,122.04 h13.0 M729.07,122.04 h-13.0 M71.08000000000001,102.03 h7.0 M729.07,102.03 h-7.0 M71.08000000000001,82.02 h7.0 M729.07,82.02 h-7.0 M71.08000000000001,62.01 h7.0 M729.07,62.01 h-7.0 M71.08000000000001,42.00 h13.0 M729.07,42.00 h-13.0 M71.08000000000001,21.99 h7.0 M729.07,21.99 h-7.0 M71.08000000000001,1.98 h7.0 M729.07,1.98 h-7.0" stroke="#000" stroke-width="3.0" fill="none"/>
<rect x="71.08" y="1.98" width="657.99" height="320.16" fill="none" stroke="#000" stroke-width="3"/>
<path d="M95.45,322.18 v13.0 M95.45,642.3399999999999 v-13.0 M119.82,322.18 v7.0 M119.82,642.3399999999999 v-7.0 M144.19,322.18 v7.0 M144.19,642.3399999999999 v-7.0 M168.56,322.18 v7.0 M168.56,642.3399999999999 v-7.0 M192.93,322.18 v7.0 M192.93,642.3399999999999 v-7.0 M217.30,322.18 v13.0 M217.30,642.3399999999999 v-13.0 M241.67,322.18 v7.0 M241.67,642.3399999999999 v-7.0 M266.04,322.18 v7.0 M266.04,642.3399999999999 v-7.0 M290.41,322.18 v7.0 M290.41,642.3399999999999 v-7.0 M314.78,322.18 v7.0 M314.78,642.3399999999999 v-7.0 M339.15,322.18 v13.0 M339.15,642.3399999999999 v-13.0 M363.52,322.18 v7.0 M363.52,642.3399999999999 v-7.0 M387.89,322.18 v7.0 M387.89,642.3399999999999 v-7.0 M412.26,322.18 v7.0 M412.26,642.3399999999999 v-7.0 M436.63,322.18 v7.0 M436.63,642.3399999999999 v-7.0 M461.00,322.18 v13.0 M461.00,642.3399999999999 v-13.0 M485.37,322.18 v7.0 M485.37,642.3399999999999 v-7.0 M509.74,322.18 v7.0 M509.74,642.3399999999999 v-7.0 M534.11,322.18 v7.0 M534.11,642.3399999999999 v-7.0 M558.48,322.18 v7.0 M558.48,642.3399999999999 v-7.0 M582.85,322.18 v13.0 M582.85,642.3399999999999 v-13.0 M607.22,322.18 v7.0 M607.22,642.3399999999999 v-7.0 M631.59,322.18 v7.0 M631.59,642.3399999999999 v-7.0 M655.96,322.18 v7.0 M655.96,642.3399999999999 v-7.0 M680.33,322.18 v7.0 M680.33,642.3399999999999 v-7.0 M704.70,322.18 v13.0 M704.70,642.3399999999999 v-13.0 M729.07,322.18 v7.0 M729.07,642.3399999999999 v-7.0 M71.08000000000001,642.34 h7.0 M729.07,642.34 h-7.0 M71.08000000000001,622.33 h7.0 M729.07,622.33 h-7.0 M71.08000000000001,602.32 h13.0 M729.07,602.32 h-13.0 M71.08000000000001,582.31 h7.0 M729.07,582.31 h-7.0 M71.08000000000001,562.30 h7.0 M729.07,562.30 h-7.0 M71.08000000000001,542.29 h7.0 M729.07,542.29 h-7.0 M71.08000000000001,522.28 h13.0 M729.07,522.28 h-13.0 M71.08000000000001,502.27 h7.0 M729.07,502.27 h-7.0 M71.08000000000001,482.26 h7.0 M729.07,482.26 h-7.0 M71.08000000000001,462.25 h7.0 M729.07,462.25 h-7.0 M71.08000000000001,442.24 h13.0 M729.07,442.24 h-13.0 M71.08000000000001,422.23 h7.0 M729.07,422.23 h-7.0 M71.08000000000001,402.22 h7.0 M729.07,402.22 h-7.0 M71.08000000000001,382.21 h7.0 M729.07,382.21 h-7.0 M71.08000000000001,362.20 h13.0 M729.07,362.20 h-13.0 M71.08000000000001,342.19 h7.0 M729.07,342.19 h-7.0 M71.08000000000001,322.18 h7.0 M729.07,322.18 h-7.0" stroke="#000" stroke-width="3.0" fill="none"/>
<rect x="71.08" y="322.18" width="657.99" height="320.16" fill="none" stroke="#000" stroke-width="3"/>
<rect x="553.5" y="9.4" width="168.39999999999998" height="69.0" rx="3" ry="3" fill="#fff" fill-opacity="0.8" stroke="#cccccc" stroke-width="1"/>
<line x1="558" y1="21.3" x2="590.1" y2="21.3" stroke="#ff0000" stroke-width="3"/>
<text x="601.1" y="26.3" font-size="14.3" font-weight="bold" textLength="103.5" lengthAdjust="spacingAndGlyphs">TPA-FLU-PMI</text>
<line x1="558" y1="43.0" x2="590.1" y2="43.0" stroke="#008000" stroke-width="3"/>
<text x="601.1" y="48.0" font-size="14.3" font-weight="bold" textLength="113.4" lengthAdjust="spacingAndGlyphs">TPA-2FLU-PMI</text>
<line x1="558" y1="64.8" x2="590.1" y2="64.8" stroke="#0000ff" stroke-width="3"/>
<text x="601.1" y="69.8" font-size="14.3" font-weight="bold" textLength="113.4" lengthAdjust="spacingAndGlyphs">TPA-3FLU-PMI</text>
<rect x="551.6" y="329.7" width="170.29999999999995" height="69.0" rx="3" ry="3" fill="#fff" fill-opacity="0.8" stroke="#cccccc" stroke-width="1"/>
<line x1="555.7" y1="341.6" x2="588.3" y2="341.6" stroke="#ff0000" stroke-width="3"/>
<text x="598.6" y="346.6" font-size="14.3" font-weight="bold" textLength="106.5" lengthAdjust="spacingAndGlyphs">DPA-FLU-PMI</text>
<line x1="555.7" y1="363.3" x2="588.3" y2="363.3" stroke="#008000" stroke-width="3"/>
<text x="598.6" y="368.3" font-size="14.3" font-weight="bold" textLength="115.9" lengthAdjust="spacingAndGlyphs">DPA-2FLU-PMI</text>
<line x1="555.7" y1="385.1" x2="588.3" y2="385.1" stroke="#0000ff" stroke-width="3"/>
<text x="598.6" y="390.1" font-size="14.3" font-weight="bold" textLength="115.9" lengthAdjust="spacingAndGlyphs">DPA-3FLU-PMI</text>
<text x="65.6" y="48.0" font-size="16.3" font-weight="bold" text-anchor="end" textLength="28.3" lengthAdjust="spacingAndGlyphs">0.0</text>
<text x="65.6" y="128.0" font-size="16.3" font-weight="bold" text-anchor="end" textLength="41.1" lengthAdjust="spacingAndGlyphs">−0.2</text>
<text x="65.6" y="208.1" font-size="16.3" font-weight="bold" text-anchor="end" textLength="41.1" lengthAdjust="spacingAndGlyphs">−0.4</text>
<text x="65.6" y="288.1" font-size="16.3" font-weight="bold" text-anchor="end" textLength="41.1" lengthAdjust="spacingAndGlyphs">−0.6</text>
<text x="65.6" y="368.2" font-size="16.3" font-weight="bold" text-anchor="end" textLength="28.3" lengthAdjust="spacingAndGlyphs">0.0</text>
<text x="65.6" y="448.2" font-size="16.3" font-weight="bold" text-anchor="end" textLength="41.1" lengthAdjust="spacingAndGlyphs">−0.2</text>
<text x="65.6" y="528.3" font-size="16.3" font-weight="bold" text-anchor="end" textLength="41.1" lengthAdjust="spacingAndGlyphs">−0.4</text>
<text x="65.6" y="608.3" font-size="16.3" font-weight="bold" text-anchor="end" textLength="41.1" lengthAdjust="spacingAndGlyphs">−0.6</text>
<text x="95.45" y="659.8" font-size="16.3" font-weight="bold" text-anchor="middle" textLength="13.1" lengthAdjust="spacingAndGlyphs">0</text>
<text x="217.30" y="659.8" font-size="16.3" font-weight="bold" text-anchor="middle" textLength="33.1" lengthAdjust="spacingAndGlyphs">100</text>
<text x="339.15" y="659.8" font-size="16.3" font-weight="bold" text-anchor="middle" textLength="33.1" lengthAdjust="spacingAndGlyphs">200</text>
<text x="461.00" y="659.8" font-size="16.3" font-weight="bold" text-anchor="middle" textLength="33.1" lengthAdjust="spacingAndGlyphs">300</text>
<text x="582.85" y="659.8" font-size="16.3" font-weight="bold" text-anchor="middle" textLength="33.1" lengthAdjust="spacingAndGlyphs">400</text>
<text x="704.70" y="659.8" font-size="16.3" font-weight="bold" text-anchor="middle" textLength="33.1" lengthAdjust="spacingAndGlyphs">500</text>
<text x="400" y="681.2" font-size="17" font-weight="bold" text-anchor="middle" textLength="84.6" lengthAdjust="spacingAndGlyphs">time [fs]</text>
<text transform="translate(13.8,162.1) rotate(-90)" font-size="17.6" font-weight="bold" text-anchor="middle" textLength="142.3" lengthAdjust="spacingAndGlyphs">charge on PMI</text>
<text transform="translate(13.8,482.3) rotate(-90)" font-size="17.6" font-weight="bold" text-anchor="middle" textLength="142.3" lengthAdjust="spacingAndGlyphs">charge on PMI</text>
<text x="96.3" y="41.9" font-size="27.8" font-weight="bold" textLength="15.9" lengthAdjust="spacingAndGlyphs">a</text>
<text x="115.7" y="40.8" font-size="25" font-weight="bold" textLength="9.3" lengthAdjust="spacingAndGlyphs">)</text>
<text x="96.1" y="361.4" font-size="27" font-weight="bold" textLength="17.6" lengthAdjust="spacingAndGlyphs">b</text>
<text x="116.8" y="360.9" font-size="25" font-weight="bold" textLength="9.3" lengthAdjust="spacingAndGlyphs">)</text></svg></body></html>
